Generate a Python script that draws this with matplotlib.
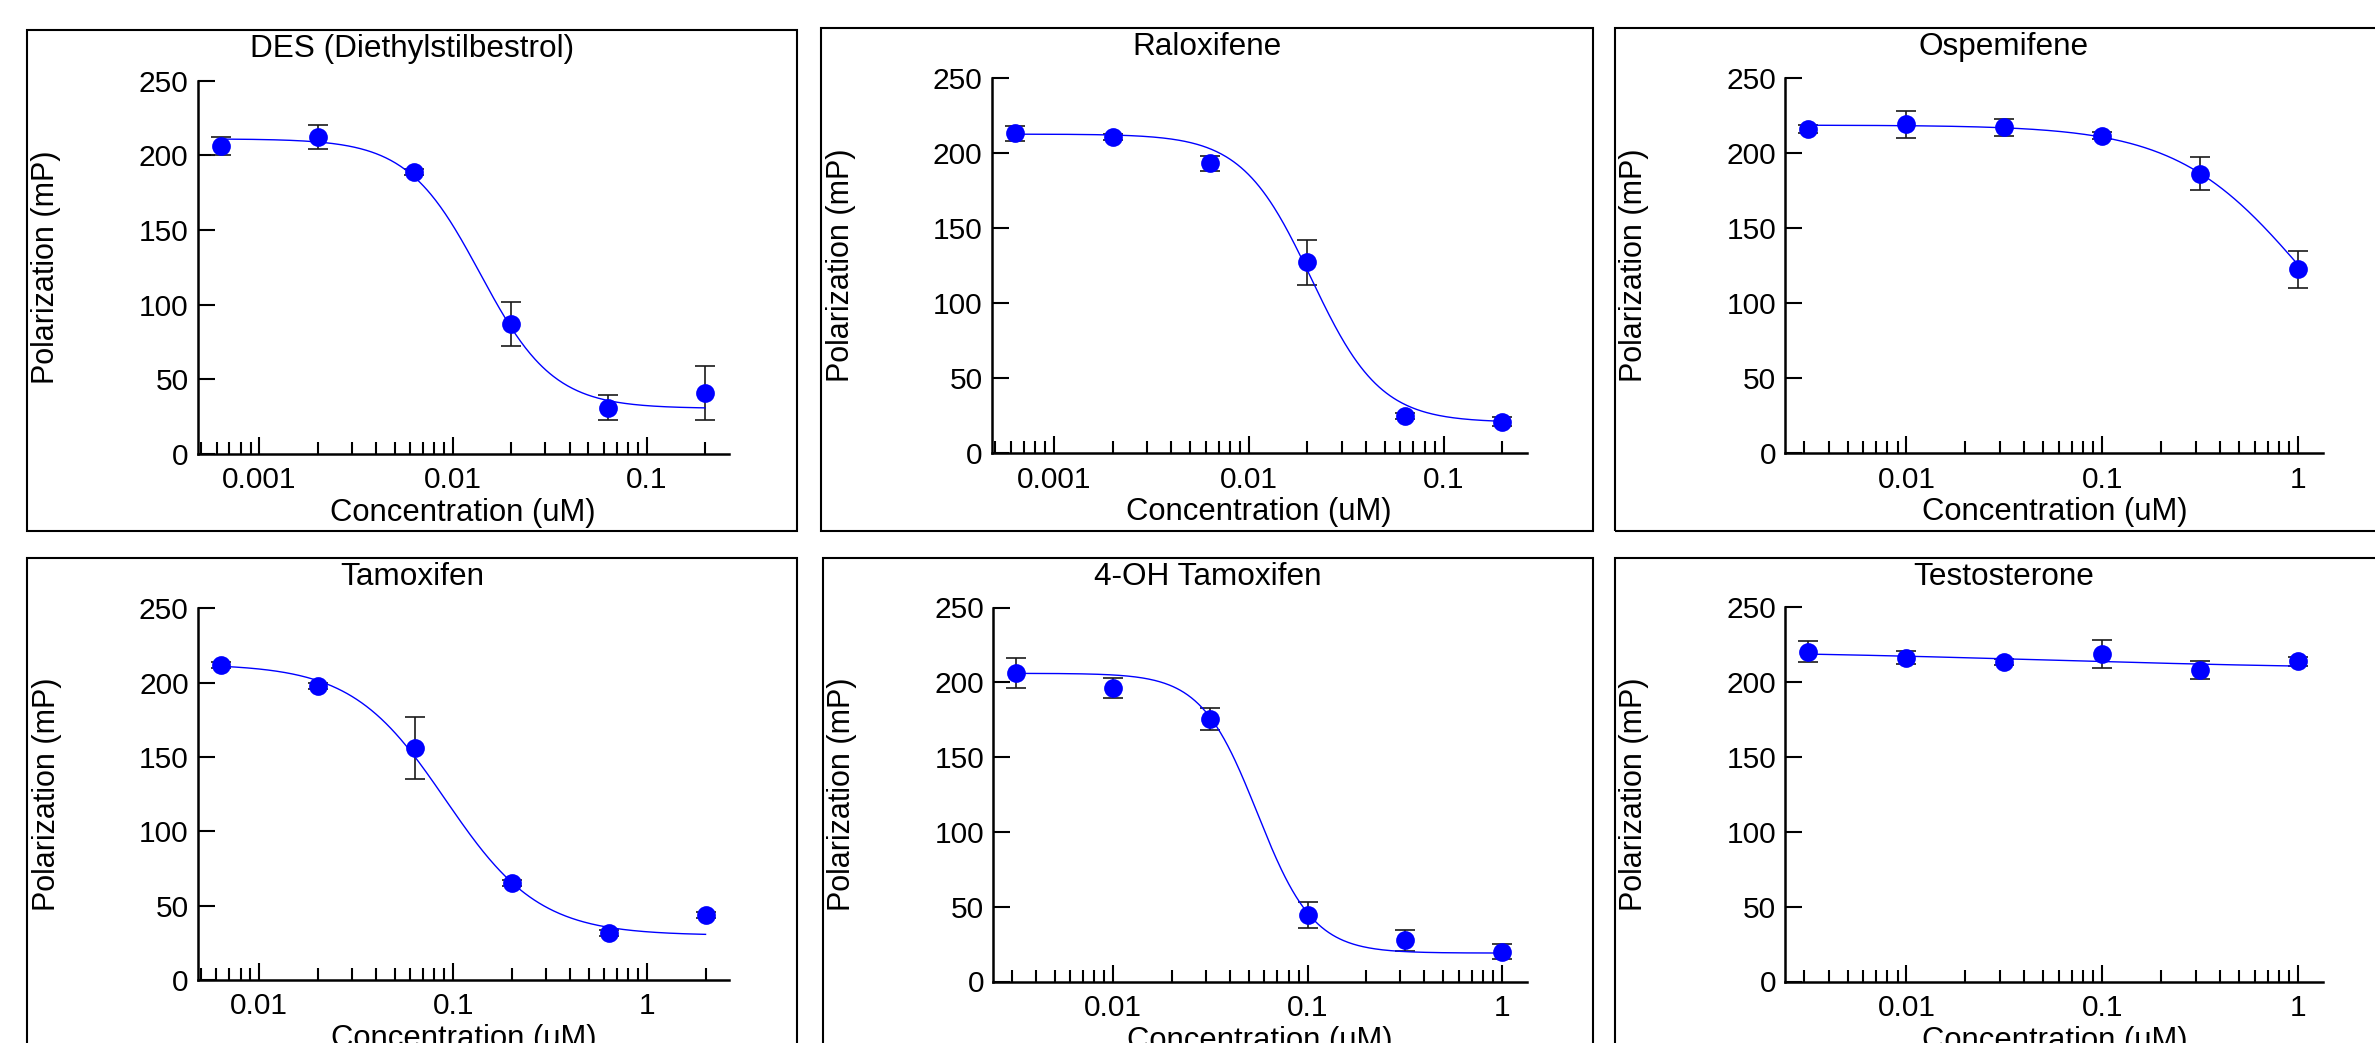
import numpy as np
import matplotlib
matplotlib.use("Agg")
import matplotlib.pyplot as plt
from matplotlib.ticker import LogLocator, FuncFormatter, NullFormatter, FixedLocator
from matplotlib.patches import Rectangle

plt.rcParams['font.family'] = ['Liberation Sans', 'DejaVu Sans']

# ---------------- data ----------------
titles = ["DES (Diethylstilbestrol)", "Raloxifene", "Ospemifene",
          "Tamoxifen", "4-OH Tamoxifen", "Testosterone"]

conc_des = [0.000632, 0.002, 0.00632, 0.02, 0.0632, 0.2]
val_des = [206, 212, 189, 87, 31, 41]
err_des = [6, 8, 2, 14.5, 8.5, 18]
fit_des = [211, 30.5, -1.86, 2.3]          # top, bottom, logIC50, hill

conc_ral = [0.000632, 0.002, 0.00632, 0.02, 0.0632, 0.2]
val_ral = [213, 210.5, 193, 127, 24.5, 21]
err_ral = [5, 2, 5, 15, 2, 3]
fit_ral = [212.5, 20.5, -1.68, 2.45]

conc_osp = [0.00316, 0.01, 0.0316, 0.1, 0.316, 1]
val_osp = [216, 219, 217, 211.5, 186, 122.5]
err_osp = [2.5, 9, 5.5, 2.5, 11, 12.3]
fit_osp = [218.5, 20, 0.04, 1.32]

conc_tam = [0.00632, 0.02, 0.0632, 0.2, 0.632, 2]
val_tam = [212, 198, 156, 65, 31.5, 44]
err_tam = [2, 2, 20.7, 2, 2, 2]
fit_tam = [212.5, 30, -1.04, 1.8]

conc_oht = [0.00316, 0.01, 0.0316, 0.1, 0.316, 1]
val_oht = [206.5, 196, 175.5, 44.5, 27.5, 20]
err_oht = [10, 6.8, 7.4, 8.9, 7, 4.8]
fit_oht = [206, 19, -1.258, 3.0]

conc_tes = [0.00316, 0.01, 0.0316, 0.1, 0.316, 1]
val_tes = [220, 216, 213, 218.5, 208, 213.5]
err_tes = [7, 4.3, 2, 9.5, 6, 3]
fit_tes = [221, 208, -1.3, 0.5]

y_ticks = [0, 50, 100, 150, 200, 250]
x_label = "Concentration (uM)"
y_label = "Polarization (mP)"

# log10 x-ranges of each panel
xlog_ranges = [(-3.32, -0.575), (-3.32, -0.575), (-2.618, 0.127),
               (-2.318, 0.422), (-2.618, 0.127), (-2.618, 0.127)]

# ---------------- layout (pixels) ----------------
W, H, DPI = 2375, 1043, 100
fig = plt.figure(figsize=(W / DPI, H / DPI), dpi=DPI)
fig.patch.set_facecolor("white")

# frames: left, right, top, bottom
frames = [(27, 797, 30, 531), (821, 1593, 28, 531), (1615, 2393, 28, 531),
          (27, 797, 558, 1060), (823, 1593, 558, 1060), (1615, 2393, 558, 1060)]
# axes: left, right, top, bottom
axes_px = [(197.5, 729, 80.6, 454), (991.6, 1526.5, 77.8, 453.2), (1785.4, 2323.2, 77.8, 453.2),
           (197.7, 729, 608.3, 980), (993.1, 1526.5, 607.5, 981.5), (1785.4, 2323.2, 606.7, 981.5)]

panels = [(conc_des, val_des, err_des, fit_des),
          (conc_ral, val_ral, err_ral, fit_ral),
          (conc_osp, val_osp, err_osp, fit_osp),
          (conc_tam, val_tam, err_tam, fit_tam),
          (conc_oht, val_oht, err_oht, fit_oht),
          (conc_tes, val_tes, err_tes, fit_tes)]

BLUE = "#0000FF"

for i, ((conc, vals, errs, fit), title) in enumerate(zip(panels, titles)):
    fl, fr, ft, fb = frames[i]
    fig.add_artist(Rectangle((fl / W, 1 - fb / H), (fr - fl) / W, (fb - ft) / H,
                             transform=fig.transFigure, fill=False,
                             edgecolor="black", linewidth=1.5))
    fig.text((fl + fr) / 2 / W, 1 - (ft + 27) / H, title, ha="center",
             va="baseline", fontsize=22.7)

    al, ar, at, ab = axes_px[i]
    axw, axh = ar - al, ab - at
    ax = fig.add_axes([al / W, 1 - ab / H, axw / W, axh / H])
    ax.set_xscale("log")
    lo, hi = xlog_ranges[i]
    ax.set_xlim(10 ** lo, 10 ** hi)
    ax.set_ylim(0, 250)

    top, bottom, logic50, hill = fit
    xs = np.logspace(np.log10(conc[0]), np.log10(conc[-1]), 400)
    ys = bottom + (top - bottom) / (1 + 10 ** ((np.log10(xs) - logic50) * hill))

    ax.errorbar(conc, vals, yerr=errs, fmt="none", ecolor="#1a1a1a",
                elinewidth=1.2, capsize=7.5, capthick=1.2, zorder=2)
    ax.plot(xs, ys, color=BLUE, linewidth=1.0, zorder=3)
    ax.plot(conc, vals, "o", color=BLUE, markersize=13.5, markeredgewidth=0,
            zorder=4, clip_on=False)

    for s in ("top", "right"):
        ax.spines[s].set_visible(False)
    for s in ("left", "bottom"):
        ax.spines[s].set_linewidth(1.8)

    ax.yaxis.set_major_locator(FixedLocator(y_ticks))
    ax.xaxis.set_major_locator(LogLocator(base=10, numticks=12))
    ax.xaxis.set_minor_locator(LogLocator(base=10, subs=np.arange(2, 10), numticks=12))
    ax.xaxis.set_major_formatter(FuncFormatter(lambda v, p: f"{v:g}"))
    ax.xaxis.set_minor_formatter(NullFormatter())

    ax.tick_params(axis="both", which="major", direction="in", length=12,
                   width=1.5, labelsize=21.5)
    ax.tick_params(axis="x", which="minor", direction="in", length=9, width=1.5)
    ax.tick_params(axis="y", which="major", pad=6.5)
    ax.tick_params(axis="x", which="major", pad=9)

    ax.set_xlabel(x_label, fontsize=22.3)
    ax.xaxis.label.set_va("baseline")
    ax.xaxis.set_label_coords(0.5, -67 / axh)
    ax.set_ylabel(y_label, fontsize=22)
    ax.yaxis.label.set_va("center")
    ax.yaxis.set_label_coords(-151 / axw, 0.5)
    ax.set_facecolor("none")

fig.savefig("out.png", dpi=DPI, facecolor="white")
